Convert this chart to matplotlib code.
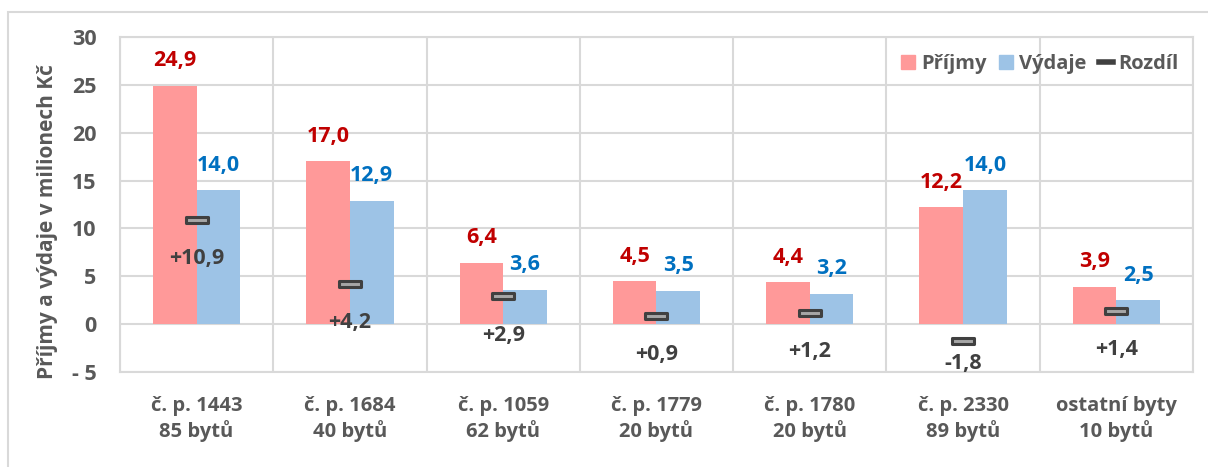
import matplotlib
matplotlib.use("Agg")
import matplotlib.pyplot as plt
import numpy as np
from matplotlib.path import Path
from matplotlib.lines import Line2D
from matplotlib.patches import Patch, Rectangle

plt.rcParams['font.family'] = ['Open Sans', 'DejaVu Sans']
plt.rcParams['font.weight'] = 'bold'

categories = ["č. p. 1443\n85 bytů", "č. p. 1684\n40 bytů", "č. p. 1059\n62 bytů",
              "č. p. 1779\n20 bytů", "č. p. 1780\n20 bytů", "č. p. 2330\n89 bytů",
              "ostatní byty\n10 bytů"]
prijmy = [24.9, 17.0, 6.4, 4.5, 4.4, 12.2, 3.9]
vydaje = [14.0, 12.9, 3.6, 3.5, 3.2, 14.0, 2.5]
rozdil = [10.9, 4.2, 2.9, 0.9, 1.2, -1.8, 1.4]
y_ticks = [-5, 0, 5, 10, 15, 20, 25, 30]
y_ticklabels = ["- 5", "0", "5", "10", "15", "20", "25", "30"]

C_PRIJMY = "#FF9999"
C_VYDAJE = "#9DC3E6"
C_GRID = "#D9D9D9"
C_TEXT = "#595959"
C_DIFF = "#404040"


def fmt(v, sign=False):
    s = f"{v:+.1f}" if sign else f"{v:.1f}"
    return s.replace(".", ",")


fig = plt.figure(figsize=(12.08, 4.67), dpi=100)
ax = fig.add_axes([0.0993, 0.2034, 0.9876 - 0.0993, 0.9208 - 0.2034])

# outer chart frame
fig.patches.append(Rectangle((8 / 1208, -0.05), 1.2, 1 - 12 / 467 + 0.05,
                             transform=fig.transFigure, fill=False,
                             edgecolor=C_GRID, linewidth=1.5, zorder=0))

x = np.arange(len(categories))
w = 0.285
ax.bar(x - w / 2, prijmy, w, color=C_PRIJMY, zorder=2, label="Příjmy")
ax.bar(x + w / 2, vydaje, w, color=C_VYDAJE, zorder=2, label="Výdaje")

# difference marker: flat rounded bar
rect = Path([(-1, -0.24), (1, -0.24), (1, 0.24), (-1, 0.24), (-1, -0.24)],
            [Path.MOVETO, Path.LINETO, Path.LINETO, Path.LINETO, Path.CLOSEPOLY])
ax.plot(x, rozdil, linestyle="none", marker=rect, markersize=16,
        markerfacecolor="#A6A6A6", markeredgecolor=C_DIFF,
        markeredgewidth=2.2, zorder=4)

fs = 14.5
fs_num = 15.5
for xi, v in zip(x, prijmy):
    ax.annotate(fmt(v), (xi - w / 2, v), xytext=(0, 18), textcoords="offset points",
                ha="center", va="center", color="#C00000", fontsize=fs_num, fontweight="bold")
for xi, v in zip(x, vydaje):
    ax.annotate(fmt(v), (xi + w / 2, v), xytext=(0, 18), textcoords="offset points",
                ha="center", va="center", color="#0070C0", fontsize=fs_num, fontweight="bold")
for xi, v in zip(x, rozdil):
    off = -28 if v >= 0 else -16
    ax.annotate(fmt(v, sign=v >= 0), (xi, v), xytext=(0, off), textcoords="offset points",
                ha="center", va="center", color=C_DIFF, fontsize=fs_num, fontweight="bold",
                zorder=5)

ax.set_xlim(-0.5, len(categories) - 0.5)
ax.set_ylim(-5, 30)
ax.set_yticks(y_ticks)
ax.set_yticklabels(y_ticklabels)
ax.set_xticks(x)
ax.set_xticklabels(categories, linespacing=1.25)
ax.set_xticks(np.arange(len(categories) + 1) - 0.5, minor=True)
ax.tick_params(axis="both", which="both", length=0, labelcolor=C_TEXT)
ax.tick_params(axis="x", pad=17, labelsize=fs)
ax.tick_params(axis="y", pad=17, labelsize=fs_num)
for lab in ax.get_xticklabels() + ax.get_yticklabels():
    lab.set_fontweight("bold")

ax.grid(axis="y", which="major", color=C_GRID, linewidth=1.5, zorder=0)
ax.grid(axis="x", which="minor", color=C_GRID, linewidth=1.5, zorder=0)
ax.grid(axis="x", which="major", visible=False)
ax.set_axisbelow(True)
for s in ax.spines.values():
    s.set_color(C_GRID)
    s.set_linewidth(1.5)

ax.set_ylabel("Příjmy a výdaje v milionech Kč", color=C_TEXT, fontsize=15,
              fontweight="bold")
ax.yaxis.set_label_coords(-0.058, 0.45)

handles = [Patch(color=C_PRIJMY), Patch(color=C_VYDAJE),
           Line2D([0], [0], color=C_DIFF, linewidth=4)]
leg = ax.legend(handles, ["Příjmy", "Výdaje", "Rozdíl"], loc="upper right",
                ncol=3, frameon=False, fontsize=fs, handlelength=0.7, handleheight=0.7,
                handletextpad=0.3, columnspacing=0.6, borderaxespad=0.3,
                bbox_to_anchor=(1.0, 0.99))
for t in leg.get_texts():
    t.set_color(C_TEXT)
    t.set_fontweight("bold")

fig.savefig("out.png", dpi=100)
